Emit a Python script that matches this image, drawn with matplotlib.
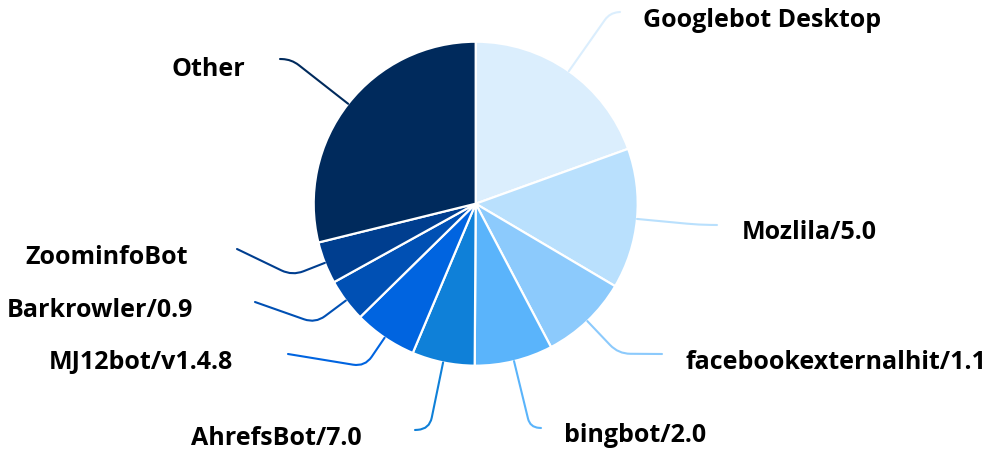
import numpy as np
import matplotlib.pyplot as plt
from matplotlib.path import Path
from matplotlib.patches import PathPatch

# %% data (share of requests, %)
labels = ['Googlebot Desktop', 'Mozlila/5.0', 'facebookexternalhit/1.1', 'bingbot/2.0',
          'AhrefsBot/7.0', 'MJ12bot/v1.4.8', 'Barkrowler/0.9', 'ZoominfoBot', 'Other']
shares = [19.5, 14.0, 8.8, 7.8, 6.25, 6.3, 4.3, 4.2, 28.85]
colors = ['#dbeefd', '#b9e0fd', '#8ccafc', '#5ab4fb', '#0f80d8',
          '#0064e0', '#0050b4', '#003e8f', '#002a5c']

# %% layout (pixel coords, y from top)
W, H = 985, 452
cx, cy, R = 475.7, 204.7, 162
# radial length of connector, connector end point, text anchor (x, baseline), side
link_len = [71, 62, 45, 68, 68, 35, 38, 35, 72]
link_end = [(620, 13), (717, 226), (662, 355), (541, 429), (415, 431),
            (288, 355), (255, 303), (237, 250), (280, 60)]
text_pos = [(643, 27), (742, 239), (685, 369), (564, 442), (362, 445),
            (233, 369), (193, 317), (188, 264), (245, 76)]
text_ha = ['left', 'left', 'left', 'left', 'right', 'right', 'right', 'right', 'right']

plt.rcParams['font.family'] = ['Open Sans', 'DejaVu Sans']

fig = plt.figure(figsize=(W / 100, H / 100), dpi=100)
ax = fig.add_axes([0, 0, 1, 1])

wedges, _ = ax.pie(shares, colors=colors, startangle=90, counterclock=False,
                   center=(cx, H - cy), radius=R,
                   wedgeprops=dict(edgecolor='white', linewidth=1.6))
ax.set_xlim(0, W)
ax.set_ylim(0, H)
ax.set_aspect('equal')
ax.axis('off')

# %% connectors + labels
for i, w in enumerate(wedges):
    mid = np.deg2rad((w.theta1 + w.theta2) / 2)
    d = np.array([np.cos(mid), np.sin(mid)])
    p0 = np.array([cx, H - cy]) + d * R
    b = p0 + d * link_len[i]
    e = np.array([link_end[i][0], H - link_end[i][1]])
    v = e - b
    dist = np.hypot(*v)
    rc = min(12, dist * 0.8, link_len[i] * 0.5)
    a = b - d * rc
    c = b + v / max(dist, 1e-6) * rc
    path = Path([p0, a, b, c, e],
                [Path.MOVETO, Path.LINETO, Path.CURVE3, Path.CURVE3, Path.LINETO])
    ax.add_patch(PathPatch(path, facecolor='none', edgecolor=colors[i],
                           linewidth=1.5, capstyle='round'))
    ax.text(text_pos[i][0], H - text_pos[i][1], labels[i], ha=text_ha[i],
            va='baseline', fontsize=18, fontweight='bold', color='black')

fig.savefig('out.png', dpi=100)
